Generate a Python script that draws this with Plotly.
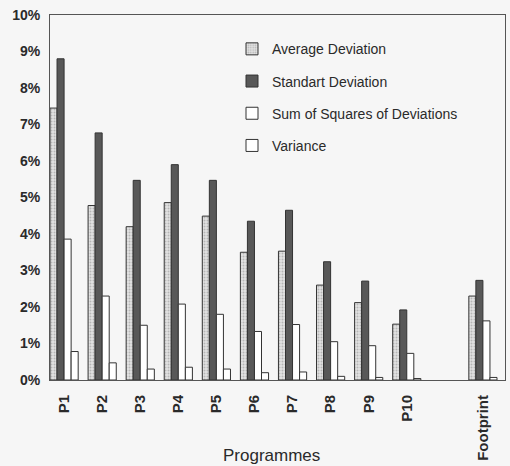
import plotly.graph_objects as go

# Programmes on the x axis (a blank slot separates the footprint)
programmes = ["P1", "P2", "P3", "P4", "P5", "P6", "P7", "P8", "P9", "P10", "Footprint"]
axis_order = ["P1", "P2", "P3", "P4", "P5", "P6", "P7", "P8", "P9", "P10", " ", "Footprint"]

# Values in percent
average_deviation = [7.45, 4.78, 4.20, 4.86, 4.49, 3.50, 3.53, 2.60, 2.12, 1.53, 2.30]
standart_deviation = [8.80, 6.77, 5.47, 5.90, 5.47, 4.35, 4.65, 3.24, 2.71, 1.92, 2.73]
sum_of_squares = [3.86, 2.30, 1.50, 2.08, 1.80, 1.33, 1.52, 1.05, 0.94, 0.73, 1.62]
variance = [0.78, 0.47, 0.30, 0.35, 0.30, 0.20, 0.22, 0.10, 0.07, 0.04, 0.07]

y_ticks = [0, 1, 2, 3, 4, 5, 6, 7, 8, 9, 10]
y_tick_labels = ["0%", "1%", "2%", "3%", "4%", "5%", "6%", "7%", "8%", "9%", "10%"]

BG = "#f6f6f6"
EDGE = "#333333"
FONT = "Liberation Sans, Arial, sans-serif"

fig = go.Figure()

fig.add_trace(go.Bar(
    name="Average Deviation", x=programmes, y=average_deviation, legendgroup="a",
    marker=dict(color="#e2e2e2", line=dict(color=EDGE, width=1),
                pattern=dict(shape=".", fgcolor="#8a8a8a", bgcolor="#e2e2e2", size=3, solidity=0.35)),
))
fig.add_trace(go.Bar(
    name="Standart Deviation", x=programmes, y=standart_deviation, legendgroup="b",
    marker=dict(color="#585858", line=dict(color=EDGE, width=1)),
))
fig.add_trace(go.Bar(
    name="Sum of Squares of Deviations", x=programmes, y=sum_of_squares, legendgroup="c",
    marker=dict(color="#ffffff", line=dict(color=EDGE, width=1)),
))
fig.add_trace(go.Bar(
    name="Variance", x=programmes, y=variance, legendgroup="d",
    marker=dict(color="#ffffff", line=dict(color=EDGE, width=1)),
))

fig.update_layout(
    width=510, height=466,
    margin=dict(l=50, r=5, t=15, b=86, autoexpand=False),
    paper_bgcolor=BG, plot_bgcolor=BG,
    barmode="group", bargap=0.26, bargroupgap=0,
    font=dict(family=FONT, color="#2a2a2a"),
    legend=dict(
        x=0.40, y=0.95, xanchor="left", yanchor="top",
        bgcolor="rgba(0,0,0,0)", font=dict(size=14),
        tracegroupgap=11, itemwidth=30,
    ),
    xaxis=dict(
        type="category", categoryorder="array", categoryarray=axis_order,
        range=[-0.37, 11.58], automargin=False,
        tickangle=-90, tickfont=dict(size=15, family=FONT, weight="bold"),
        ticks="outside", ticklen=8, tickcolor=BG,
        showline=True, linecolor="#555555", linewidth=1, mirror=True,
        showgrid=False,
    ),
    yaxis=dict(
        range=[0, 10], tickvals=y_ticks, ticktext=y_tick_labels, automargin=False,
        tickfont=dict(size=14, family=FONT, weight="bold"),
        ticks="outside", ticklen=6, tickcolor=BG,
        showline=True, linecolor="#555555", linewidth=1, mirror=True,
        showgrid=False, zeroline=False,
    ),
    annotations=[dict(
        text="Programmes", xref="paper", yref="paper",
        x=(271 - 50) / 455, y=-(455 - 380) / 365,
        xanchor="center", yanchor="middle", showarrow=False,
        font=dict(size=17, family=FONT, color="#2a2a2a"),
    )],
)

fig.write_html("out.html")
